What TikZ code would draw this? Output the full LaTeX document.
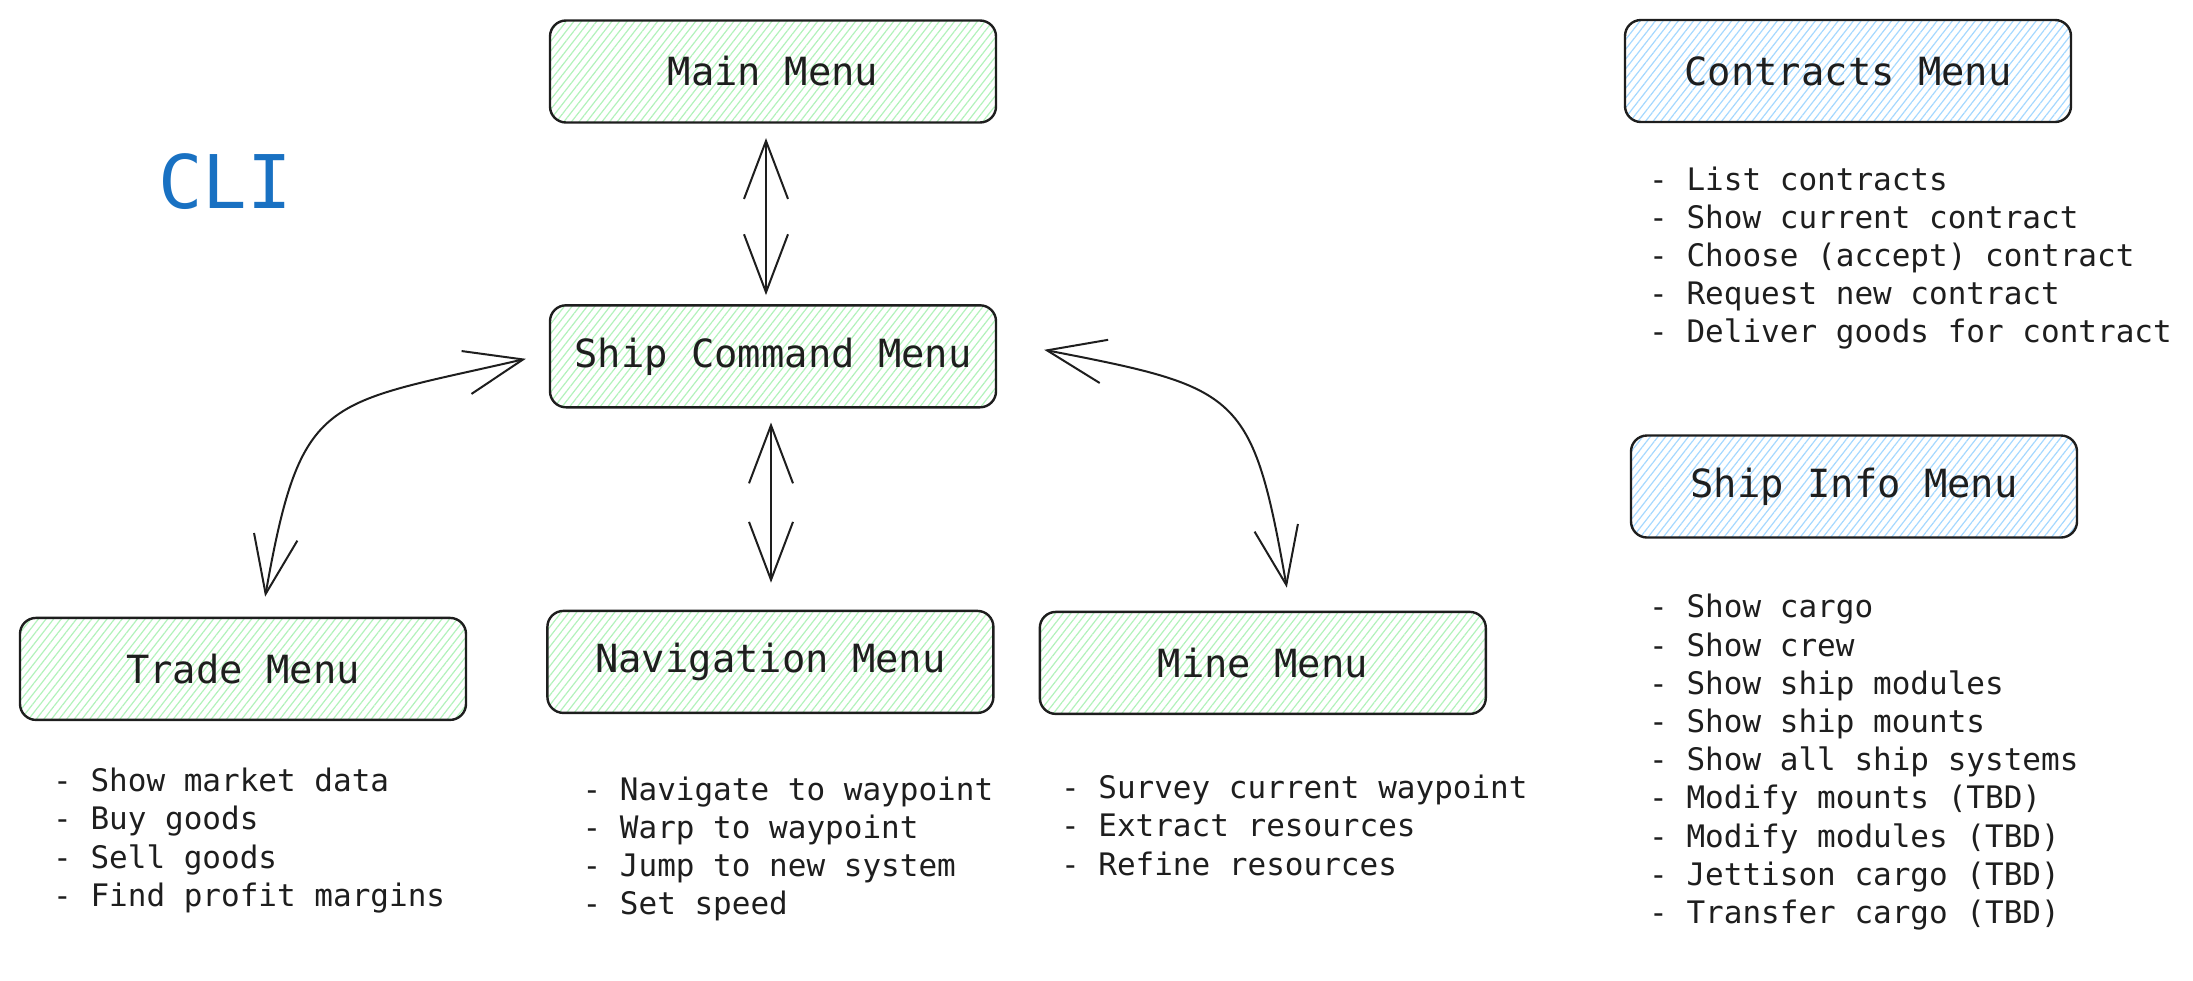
\documentclass[tikz,border=0pt]{standalone}
\usepackage{fontspec}
\setmonofont{DejaVu Sans Mono}
\usetikzlibrary{positioning, arrows.meta, patterns.meta}

\definecolor{inkgray}{HTML}{1E1E1E}
\definecolor{hatchgreen}{HTML}{B2F2BB}
\definecolor{hatchblue}{HTML}{A5D8FF}
\definecolor{cliblue}{HTML}{1971C2}

\tikzset{
  menu/.style={draw=inkgray, line width=1.2pt, rounded corners=8pt,
    minimum width=223pt, minimum height=51pt, text=inkgray,
    font=\ttfamily\fontsize{19.4}{23}\selectfont,
    pattern={Lines[angle=52, distance=3pt, line width=0.6pt]}},
  green menu/.style={menu, pattern color=hatchgreen},
  blue menu/.style={menu, pattern color=hatchblue},
  items/.style={align=left, inner sep=0pt, text=inkgray,
    font=\ttfamily\fontsize{15.5}{19.1}\selectfont},
  link/.style={draw=inkgray, line width=1pt,
    {Straight Barb[length=29pt, width=22pt]}-{Straight Barb[length=29pt, width=22pt]}},
}

\begin{document}
\begin{tikzpicture}[x=0.5pt, y=0.5pt]
  \useasboundingbox (0,0) rectangle (2193,-980);

  \node[text=cliblue, font=\ttfamily\fontsize{37}{44}\selectfont] (cli) at (225,-182) {CLI};

  % menus
  \node[green menu] (main) at (773,-71.5) {Main Menu};
  \node[green menu, below=90.5pt of main] (ship) {Ship Command Menu};
  \node[green menu, below=100.6pt of ship, xshift=-1.3pt] (nav) {Navigation Menu};
  \node[green menu, left=39.5pt of nav, yshift=-3.5pt] (trade) {Trade Menu};
  \node[green menu, right=22pt of nav, yshift=-0.5pt] (mine) {Mine Menu};
  \node[blue menu] (contracts) at (1848,-71) {Contracts Menu};
  \node[blue menu] (info) at (1854,-486.5) {Ship Info Menu};

  % item lists
  \node[items, below right=21.5pt and 12.5pt of contracts.south west] (contractsitems)
    {- List contracts\\- Show current contract\\- Choose (accept) contract\\- Request new contract\\- Deliver goods for contract};
  \node[items, below right=27.6pt and 9.5pt of info.south west] (infoitems)
    {- Show cargo\\- Show crew\\- Show ship modules\\- Show ship mounts\\- Show all ship systems\\- Modify mounts (TBD)\\- Modify modules (TBD)\\- Jettison cargo (TBD)\\- Transfer cargo (TBD)};
  \node[items, below right=23.3pt and 17pt of trade.south west] (tradeitems)
    {- Show market data\\- Buy goods\\- Sell goods\\- Find profit margins};
  \node[items, below right=31pt and 18pt of nav.south west] (navitems)
    {- Navigate to waypoint\\- Warp to waypoint\\- Jump to new system\\- Set speed};
  \node[items, below right=29.8pt and 11pt of mine.south west] (mineitems)
    {- Survey current waypoint\\- Extract resources\\- Refine resources};

  % connectors
  \draw[link, shorten <=7.5pt, shorten >=4.5pt] ([xshift=-3.5pt]main.south) -- ([xshift=-3.5pt]ship.north);
  \draw[link, shorten <=7pt, shorten >=13.5pt] ([xshift=-1pt]ship.south) -- ([xshift=-1pt]ship.south |- nav.north);
  \draw[link] ([xshift=-11.5pt, yshift=-1.25pt]ship.west) to[out=193, in=80, looseness=1.5] ([xshift=-4pt, yshift=10pt]trade.60);
  \draw[link] ([xshift=23.5pt, yshift=3.25pt]ship.east) to[out=-11, in=100, looseness=1.5] ([xshift=2.5pt, yshift=11.5pt]mine.70);
\end{tikzpicture}
\end{document}
